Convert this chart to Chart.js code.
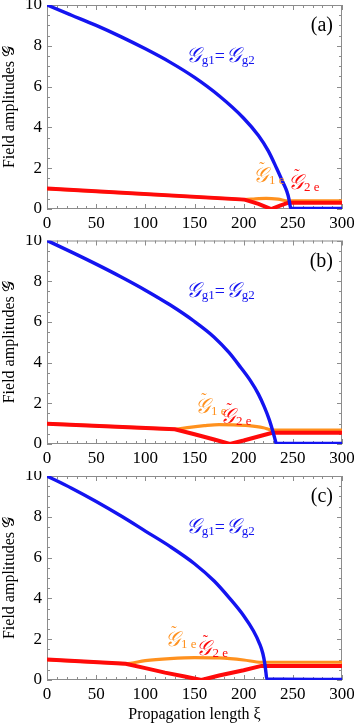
<!DOCTYPE html>
<html><head><meta charset="utf-8">
<script src="https://cdn.jsdelivr.net/npm/chart.js@4.4.1/dist/chart.umd.min.js"></script>
<style>
html,body{margin:0;padding:0;background:#fff;}
#wrap{position:relative;width:354px;height:727px;overflow:hidden;background:#fff;}
canvas{position:absolute;left:0;}
</style></head><body>
<div id="wrap">
<canvas id="ca" style="top:0px"></canvas>
<canvas id="cb" style="top:235px"></canvas>
<canvas id="cc" style="top:471px"></canvas>
</div>
<script>
// ---------- data ----------
const xTicks = [0, 50, 100, 150, 200, 250, 300];
const yTicks = [0, 2, 4, 6, 8, 10];
const panelLabels = ['(a)', '(b)', '(c)'];

// panel (a)
const blueAx = [0, 25, 50, 75, 100, 125, 150, 175, 200, 215, 225, 233.5, 240, 244, 246, 247.5, 248.5, 300];
const blueAy = [10, 9.5, 9.0, 8.45, 7.85, 7.2, 6.45, 5.55, 4.45, 3.6, 2.85, 2.0, 1.3, 0.85, 0.5, 0.1, 0.03, 0.03];
const redAx = [0, 201, 215, 228, 237, 245.5, 300];
const redAy = [1.0, 0.46, 0.25, 0.0, 0.17, 0.31, 0.31];
const orangeAx = [0, 190, 201, 212, 223, 235, 245.5, 300];
const orangeAy = [1.0, 0.49, 0.46, 0.5, 0.52, 0.48, 0.4, 0.4];

// panel (b)
const blueBx = [0, 25, 50, 75, 100, 125, 150, 170, 185, 197, 207, 215, 221, 226, 229.5, 231.5, 233, 234, 300];
const blueBy = [10, 9.43, 8.84, 8.22, 7.56, 6.84, 6.02, 5.25, 4.5, 3.76, 3.1, 2.45, 1.82, 1.2, 0.65, 0.3, 0.05, 0.03, 0.03];
const redBx = [0, 130, 150, 170, 186, 200, 215, 229, 300];
const redBy = [1.0, 0.72, 0.48, 0.22, 0.0, 0.17, 0.37, 0.55, 0.55];
const orangeBx = [0, 120, 130, 145, 160, 175, 190, 205, 220, 229, 300];
const orangeBy = [1.0, 0.74, 0.72, 0.82, 0.9, 0.95, 0.94, 0.9, 0.8, 0.68, 0.68];

// panel (c)
const blueCx = [0, 25, 50, 76.7, 100, 125, 150, 170, 185.8, 200, 210, 216, 219.5, 221.5, 222.7, 223.5, 300];
const blueCy = [10, 9.4, 8.75, 8.0, 7.3, 6.55, 5.7, 4.85, 4.0, 3.15, 2.4, 1.8, 1.3, 0.8, 0.35, 0.05, 0.03];
const redCx = [0, 80, 100, 120, 140, 157, 175, 200, 218, 300];
const redCy = [1.0, 0.8, 0.58, 0.36, 0.17, 0.0, 0.22, 0.48, 0.69, 0.69];
const orangeCx = [0, 70, 80, 100, 125, 150, 175, 200, 218, 300];
const orangeCy = [1.0, 0.82, 0.8, 0.95, 1.05, 1.1, 1.08, 0.98, 0.87, 0.87];

// ---------- styling ----------
const SERIF = "'Liberation Serif', 'Times New Roman', serif";
const SCRIPT = "'DejaVu Serif', 'DejaVu Sans', 'Noto Sans', serif";
const BLUE = 'rgb(20,20,240)';
const RED = 'rgb(255,10,10)';
const ORANGE = 'rgb(255,145,30)';
const FRAME = 'rgb(140,140,140)';
const G = '\u{1D4A2}';

function zip(xs, ys) { return xs.map((x, i) => ({ x: x, y: ys[i] })); }

function drawSegs(ctx, x, y, segs, color) {
  ctx.save();
  ctx.fillStyle = color;
  ctx.textBaseline = 'alphabetic';
  ctx.textAlign = 'left';
  let cx = x;
  for (const s of segs) {
    ctx.font = s.font;
    const w = ctx.measureText(s.t).width;
    ctx.fillText(s.t, cx, y + (s.dy || 0));
    if (s.tilde) {
      ctx.font = '16px ' + SERIF;
      ctx.textAlign = 'center';
      ctx.fillText('\u02DC', cx + w * 0.6, y - 9);
      ctx.textAlign = 'left';
    }
    cx += w + (s.gap || 0);
  }
  ctx.restore();
}

const framePlugin = {
  id: 'frame',
  beforeDatasetsDraw(chart) {
    const { ctx, chartArea: a, scales: { x, y } } = chart;
    ctx.save();
    ctx.strokeStyle = FRAME;
    ctx.lineWidth = 1;
    ctx.strokeRect(a.left + 0.5, a.top + 0.5, a.right - a.left - 1, a.bottom - a.top - 1);
    ctx.beginPath();
    for (let v = 0; v <= 300; v += 10) {
      const px = Math.round(x.getPixelForValue(v)) + 0.5;
      const L = v % 50 === 0 ? 5 : 3;
      ctx.moveTo(px, a.bottom); ctx.lineTo(px, a.bottom - L);
      ctx.moveTo(px, a.top); ctx.lineTo(px, a.top + L);
    }
    for (let v = 0; v <= 10; v += 0.5) {
      const py = Math.round(y.getPixelForValue(v)) + 0.5;
      const L = v % 2 === 0 ? 5 : 3;
      ctx.moveTo(a.left, py); ctx.lineTo(a.left + L, py);
      ctx.moveTo(a.right, py); ctx.lineTo(a.right - L, py);
    }
    ctx.stroke();
    ctx.restore();
  },
  afterDatasetsDraw(chart, args, o) {
    const { ctx, chartArea: a, scales: { x, y } } = chart;
    const GF = 'italic 21px ' + SCRIPT;
    const SF = '13px ' + SERIF;
    drawSegs(ctx, x.getPixelForValue(141), y.getPixelForValue(7.2), [
      { t: G, font: GF, gap: 1 },
      { t: 'g1', font: SF, dy: 2 },
      { t: '=', font: '18px ' + SERIF, gap: 1 },
      { t: G, font: GF, gap: 1 },
      { t: 'g2', font: SF, dy: 2 }
    ], BLUE);
    drawSegs(ctx, x.getPixelForValue(o.g1e[0]), y.getPixelForValue(o.g1e[1]), [
      { t: G, font: GF, tilde: true, gap: 1 },
      { t: '1 e', font: SF, dy: 2 }
    ], ORANGE);
    drawSegs(ctx, x.getPixelForValue(o.g2e[0]), y.getPixelForValue(o.g2e[1]), [
      { t: G, font: GF, tilde: true, gap: 1 },
      { t: '2 e', font: SF, dy: 2 }
    ], RED);
    ctx.save();
    ctx.fillStyle = '#000';
    ctx.font = '20px ' + SERIF;
    ctx.textAlign = 'right';
    ctx.textBaseline = 'alphabetic';
    ctx.fillText(o.label, a.right - 9, a.top + 26);
    ctx.restore();
  }
};

const panels = [
  { id: 'ca', h: 235, padTop: 5, xh: 26, blue: [blueAx, blueAy], red: [redAx, redAy], orange: [orangeAx, orangeAy], label: panelLabels[0], g1e: [209.5, 1.32], g2e: [245, 1.0], xTitle: false },
  { id: 'cb', h: 236, padTop: 5.5, xh: 27, blue: [blueBx, blueBy], red: [redBx, redBy], orange: [orangeBx, orangeBy], label: panelLabels[1], g1e: [150.5, 1.52], g2e: [176, 1.03], xTitle: false },
  { id: 'cc', h: 256, padTop: 5, xh: 47, blue: [blueCx, blueCy], red: [redCx, redCy], orange: [orangeCx, orangeCy], label: panelLabels[2], g1e: [120, 1.67], g2e: [152, 1.23], xTitle: true }
];

for (const p of panels) {
  const cv = document.getElementById(p.id);
  cv.width = 354; cv.height = p.h;
  cv.style.width = '354px'; cv.style.height = p.h + 'px';
  new Chart(cv, {
    type: 'line',
    data: {
      datasets: [
        { data: zip(p.blue[0], p.blue[1]), borderColor: BLUE, borderWidth: 3.4, pointRadius: 0, cubicInterpolationMode: 'monotone', fill: false },
        { data: zip(p.red[0], p.red[1]), borderColor: RED, borderWidth: 4, pointRadius: 0, tension: 0, fill: false },
        { data: zip(p.orange[0], p.orange[1]), borderColor: ORANGE, borderWidth: 3.2, pointRadius: 0, cubicInterpolationMode: 'monotone', fill: false }
      ]
    },
    options: {
      responsive: false, animation: false, devicePixelRatio: 1,
      layout: { padding: { top: p.padTop, right: 12, left: 0, bottom: 0 } },
      plugins: {
        legend: { display: false }, tooltip: { enabled: false },
        frame: { label: p.label, g1e: p.g1e, g2e: p.g2e }
      },
      scales: {
        x: {
          type: 'linear', min: 0, max: 300,
          afterBuildTicks: s => { s.ticks = xTicks.map(v => ({ value: v })); },
          afterFit: s => { s.height = p.xh; s.paddingLeft = 0; s.paddingRight = 0; },
          ticks: { font: { family: SERIF, size: 17 }, color: '#000', padding: 4, maxRotation: 0, autoSkip: false },
          grid: { display: false, drawTicks: false }, border: { display: false },
          title: { display: p.xTitle, text: 'Propagation length \u03BE', font: { family: SERIF, size: 16 }, color: '#000', padding: { top: 0, bottom: 3 } }
        },
        y: {
          type: 'linear', min: 0, max: 10,
          afterBuildTicks: s => { s.ticks = yTicks.map(v => ({ value: v })); },
          afterFit: s => { s.width = 47; s.paddingTop = 0; s.paddingBottom = 0; },
          ticks: { font: { family: SERIF, size: 17 }, color: '#000', padding: 5 },
          grid: { display: false, drawTicks: false }, border: { display: false },
          title: { display: true, text: 'Field amplitudes ' + G, font: { family: SERIF, size: 16 }, color: '#000', padding: 0 }
        }
      }
    },
    plugins: [framePlugin]
  });
}
</script>
</body></html>
